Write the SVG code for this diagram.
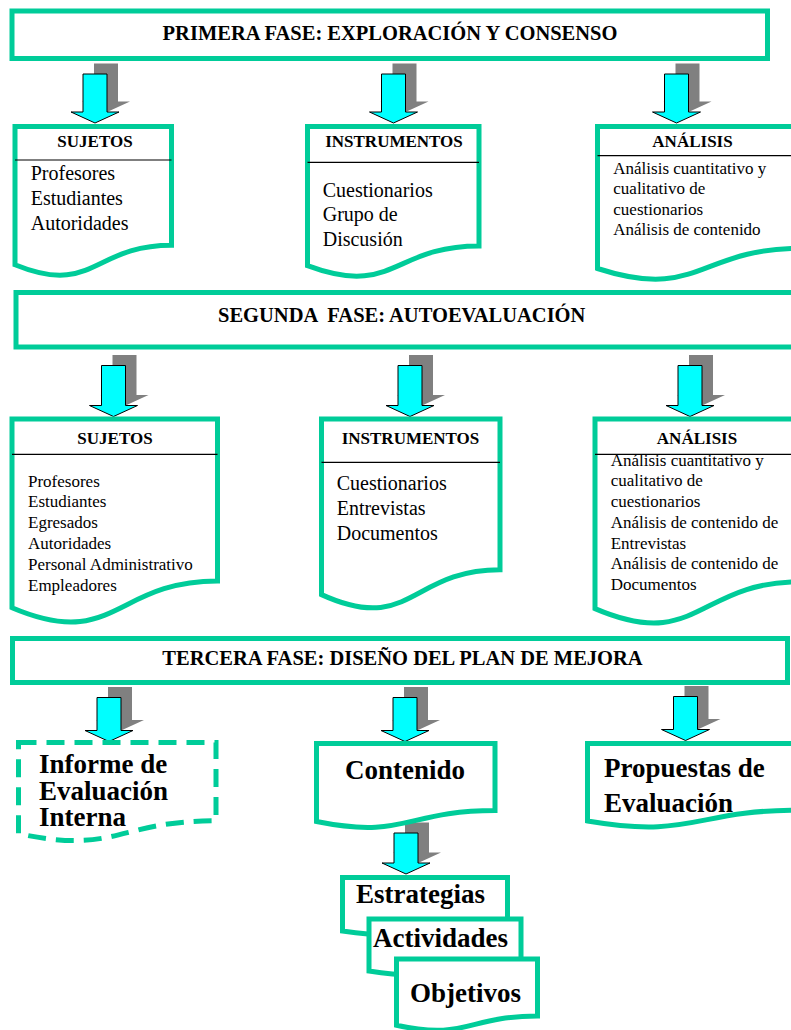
<svg xmlns="http://www.w3.org/2000/svg" xmlns:xlink="http://www.w3.org/1999/xlink" width="791" height="1030" viewBox="0 0 791 1030">
<style>
.box{fill:#fff;stroke:#00CC99;stroke-width:5;stroke-linejoin:miter}
.dash{stroke-dasharray:18 10}
.div{stroke:#000;stroke-width:1.2}
.arr{fill:#00FFFF;stroke:#000;stroke-width:1}
.sh{fill:#808080}
.t{font-family:"Liberation Serif","Times New Roman",serif;fill:#000}
.title{font-size:20.5px;font-weight:bold;white-space:pre}
.hd{font-size:17px;font-weight:bold;text-anchor:middle}
.b20{font-size:20px}
.b17{font-size:17px}
.big{font-size:27px;font-weight:bold}
</style>
<defs>
<path id="a1" d="M-12,-49 H12 V-11 H24 L0,0 L-24,-11 H-12 Z"/>
<path id="a2" d="M-12,-51 H12 V-11 H24 L0,0 L-24,-11 H-12 Z"/>
<path id="a3" d="M-12,-44 H12 V-11 H24 L0,0 L-24,-11 H-12 Z"/>
<path id="a4" d="M-12,-41 H12 V-11 H24 L0,0 L-24,-11 H-12 Z"/>
</defs>
<rect width="791" height="1030" fill="#fff"/>

<g id="connectors">
<use xlink:href="#a1" href="#a1" class="sh" transform="translate(106,112.5)"/>
<use xlink:href="#a1" href="#a1" class="arr" transform="translate(95,123)"/>
<use xlink:href="#a1" href="#a1" class="sh" transform="translate(404.5,112.5)"/>
<use xlink:href="#a1" href="#a1" class="arr" transform="translate(393.5,123)"/>
<use xlink:href="#a1" href="#a1" class="sh" transform="translate(687.5,112.5)"/>
<use xlink:href="#a1" href="#a1" class="arr" transform="translate(676.5,123)"/>

<use xlink:href="#a2" href="#a2" class="sh" transform="translate(124.5,406)"/>
<use xlink:href="#a2" href="#a2" class="arr" transform="translate(113.5,416.5)"/>
<use xlink:href="#a2" href="#a2" class="sh" transform="translate(421,406)"/>
<use xlink:href="#a2" href="#a2" class="arr" transform="translate(410,416.5)"/>
<use xlink:href="#a2" href="#a2" class="sh" transform="translate(701,406)"/>
<use xlink:href="#a2" href="#a2" class="arr" transform="translate(690,416.5)"/>

<use xlink:href="#a3" href="#a3" class="sh" transform="translate(120,731)"/>
<use xlink:href="#a3" href="#a3" class="arr" transform="translate(109,741.5)"/>
<use xlink:href="#a3" href="#a3" class="sh" transform="translate(416,731)"/>
<use xlink:href="#a3" href="#a3" class="arr" transform="translate(405,741.5)"/>
<use xlink:href="#a3" href="#a3" class="sh" transform="translate(696.5,730)"/>
<use xlink:href="#a3" href="#a3" class="arr" transform="translate(685.5,740.5)"/>

<use xlink:href="#a4" href="#a4" class="sh" transform="translate(417,863.5)"/>
<use xlink:href="#a4" href="#a4" class="arr" transform="translate(406,874)"/>
</g>

<g id="fase1">
<rect class="box" x="12" y="11" width="755.5" height="47.5"/>
<text class="t title" x="390" y="40" text-anchor="middle">PRIMERA FASE: EXPLORACIÓN Y CONSENSO</text>
</g>

<g id="sujetos1">
<path class="box" d="M15,126.5 H171.5 V245.2 C93.25,245.2 93.25,296.7 15,264.7 Z"/>
<line class="div" x1="15" y1="160" x2="171.5" y2="160"/>
<text class="t hd" x="95" y="147">SUJETOS</text>
<text class="t b20" x="30.7" y="180">Profesores</text>
<text class="t b20" x="30.7" y="204.5">Estudiantes</text>
<text class="t b20" x="30.7" y="229.5">Autoridades</text>
</g>

<g id="instrumentos1">
<path class="box" d="M307.5,126.5 H479 V246 C393.25,246 393.25,297.85 307.5,265.7 Z"/>
<line class="div" x1="307.5" y1="162.3" x2="479" y2="162.3"/>
<text class="t hd" x="394" y="147">INSTRUMENTOS</text>
<text class="t b20" x="322.7" y="196.5">Cuestionarios</text>
<text class="t b20" x="322.7" y="221">Grupo de</text>
<text class="t b20" x="322.7" y="245.5">Discusión</text>
</g>

<g id="analisis1">
<path class="box" d="M597.5,126.5 H800 V248.4 C698.75,248.4 698.75,301.3 597.5,268.5 Z"/>
<line class="div" x1="597.5" y1="155.7" x2="800" y2="155.7"/>
<text class="t hd" x="692.5" y="147">ANÁLISIS</text>
<text class="t b17" x="613.3" y="173.5">Análisis cuantitativo y</text>
<text class="t b17" x="613.3" y="194">cualitativo de</text>
<text class="t b17" x="613.3" y="214.5">cuestionarios</text>
<text class="t b17" x="613.3" y="235">Análisis de contenido</text>
</g>

<g id="fase2">
<rect class="box" x="16" y="292.5" width="800" height="54.5"/>
<text class="t title" x="218" y="322">SEGUNDA  FASE: AUTOEVALUACIÓN</text>
</g>

<g id="sujetos2">
<path class="box" d="M12,419 H217.5 V581 C114.75,581 114.75,651.3 12,607.7 Z"/>
<line class="div" x1="12" y1="454.3" x2="217.5" y2="454.3"/>
<text class="t hd" x="115" y="444">SUJETOS</text>
<text class="t b17" x="28" y="486.5">Profesores</text>
<text class="t b17" x="28" y="507.3">Estudiantes</text>
<text class="t b17" x="28" y="528.1">Egresados</text>
<text class="t b17" x="28" y="548.9">Autoridades</text>
<text class="t b17" x="28" y="569.7">Personal Administrativo</text>
<text class="t b17" x="28" y="590.5">Empleadores</text>
</g>

<g id="instrumentos2">
<path class="box" d="M321.5,419 H500 V569.8 C410.75,569.8 410.75,635.2 321.5,594.6 Z"/>
<line class="div" x1="321.5" y1="462.3" x2="500" y2="462.3"/>
<text class="t hd" x="410.5" y="444">INSTRUMENTOS</text>
<text class="t b20" x="336.7" y="489.5">Cuestionarios</text>
<text class="t b20" x="336.7" y="514.5">Entrevistas</text>
<text class="t b20" x="336.7" y="539.5">Documentos</text>
</g>

<g id="analisis2">
<path class="box" d="M595,419 H800 V581.8 C697.5,581.8 697.5,652.5 595,608.6 Z"/>
<line class="div" x1="595" y1="454.3" x2="800" y2="454.3"/>
<text class="t hd" x="697" y="444">ANÁLISIS</text>
<text class="t b17" x="610.7" y="465.7">Análisis cuantitativo y</text>
<text class="t b17" x="610.7" y="486.4">cualitativo de</text>
<text class="t b17" x="610.7" y="507.1">cuestionarios</text>
<text class="t b17" x="610.7" y="527.8">Análisis de contenido de</text>
<text class="t b17" x="610.7" y="548.5">Entrevistas</text>
<text class="t b17" x="610.7" y="569.2">Análisis de contenido de</text>
<text class="t b17" x="610.7" y="590">Documentos</text>
</g>

<g id="fase3">
<rect class="box" x="12.5" y="638.5" width="775" height="44"/>
<text class="t title" x="402.5" y="665" text-anchor="middle">TERCERA FASE: DISEÑO DEL PLAN DE MEJORA</text>
</g>

<g id="informe">
<path class="box dash" d="M18.5,742.5 H216 V820.8 C117.25,820.8 117.25,854.7 18.5,833.7 Z"/>
<text class="t big" x="39" y="773">Informe de</text>
<text class="t big" x="39" y="799.5">Evaluación</text>
<text class="t big" x="39" y="826">Interna</text>
</g>

<g id="contenido">
<path class="box" d="M316.5,743.5 H495 V810.5 C405.75,810.5 405.75,839.5 316.5,821.5 Z"/>
<text class="t big" x="345" y="779">Contenido</text>
</g>

<g id="propuestas">
<path class="box" d="M587.5,743.5 H800 V810.1 C693.75,810.1 693.75,839 587.5,821 Z"/>
<text class="t big" x="604" y="777">Propuestas de</text>
<text class="t big" x="604" y="811.5">Evaluación</text>
</g>

<g id="estrategias">
<path class="box" d="M342.5,877.5 H507.5 V923.5 C425,923.5 425,943.4 342.5,931 Z"/>
<text class="t big" x="356" y="903">Estrategias</text>
</g>

<g id="actividades">
<path class="box" d="M369,919 H521 V963.7 C445,963.7 445,983.1 369,971 Z"/>
<text class="t big" x="373" y="946.5">Actividades</text>
</g>

<g id="objetivos">
<path class="box" d="M396.5,959 H537.5 V1016 C467,1016 467,1040.7 396.5,1025.3 Z"/>
<text class="t big" x="410" y="1001.5">Objetivos</text>
</g>
</svg>
